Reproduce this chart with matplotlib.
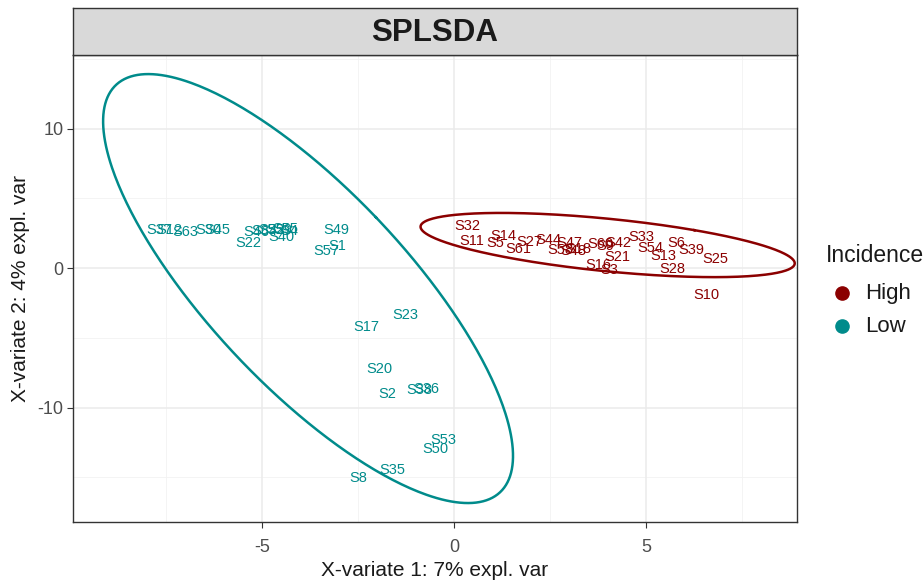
import numpy as np
import matplotlib
matplotlib.use("Agg")
import matplotlib.pyplot as plt
from matplotlib.lines import Line2D

plt.rcParams['font.family'] = ['Liberation Sans', 'DejaVu Sans']

# ---- data ----
low_names = ["S37", "S12", "S63", "S30", "S45", "S46", "S34", "S52", "S59", "S55", "S4",
             "S22", "S40", "S49", "S1", "S57", "S17", "S23", "S20", "S2", "S38", "S36",
             "S53", "S50", "S35", "S8"]
low_x = [-7.66, -7.40, -7.00, -6.40, -6.15, -5.15, -4.95, -4.75, -4.55, -4.40, -4.30,
         -5.36, -4.50, -3.07, -3.05, -3.33, -2.29, -1.28, -1.93, -1.74, -0.89, -0.72,
         -0.29, -0.49, -1.61, -2.50]
low_y = [2.72, 2.72, 2.60, 2.75, 2.70, 2.60, 2.65, 2.75, 2.70, 2.80, 2.65,
         1.80, 2.20, 2.72, 1.58, 1.22, -4.20, -3.37, -7.24, -9.03, -8.75, -8.70,
         -12.30, -13.00, -14.50, -15.05]

high_names = ["S32", "S11", "S14", "S5", "S61", "S27", "S44", "S47", "S58", "S48", "S18",
              "S60", "S9", "S42", "S21", "S33", "S54", "S6", "S39", "S13", "S25", "S28",
              "S16", "S3", "S10"]
high_x = [0.36, 0.47, 1.28, 1.07, 1.67, 1.95, 2.45, 3.00, 2.76, 3.10, 3.25,
          3.80, 3.95, 4.27, 4.25, 4.87, 5.10, 5.78, 6.17, 5.44, 6.80, 5.68,
          3.75, 4.04, 6.56]
high_y = [3.00, 1.94, 2.30, 1.80, 1.36, 1.86, 2.00, 1.80, 1.30, 1.20, 1.40,
          1.70, 1.60, 1.80, 0.80, 2.20, 1.43, 1.80, 1.30, 0.86, 0.65, -0.07,
          0.20, -0.14, -1.94]

# 95% confidence ellipses: centre x, centre y, sd x, sd y, correlation
ell_low = [-3.80, -1.47, 2.18, 6.28, -0.78]
ell_high = [4.00, 1.65, 1.99, 0.94, -0.57]

groups = ["High", "Low"]
colors = {"High": "#8B0000", "Low": "#008B8B"}

title = "SPLSDA"
legend_title = "Incidence"
xlabel = "X-variate 1: 7% expl. var"
ylabel = "X-variate 2: 4% expl. var"
xticks = [-5, 0, 5]
yticks = [-10, 0, 10]

# ---- figure ----
W, H = 924, 583
fig = plt.figure(figsize=(W / 100, H / 100), dpi=100)
L, R, B, T = 73/W, 797/W, 1 - 522/H, 1 - 55/H
ax = fig.add_axes([L, B, R - L, T - B])
ax.set_xlim(-9.92, 8.93)
ax.set_ylim(-18.2, 15.27)

# grid
for v in [-7.5, -2.5, 2.5, 7.5]:
    ax.axvline(v, color="#F2F2F2", lw=0.6, zorder=0)
for v in [-15, -5, 5, 15]:
    ax.axhline(v, color="#F2F2F2", lw=0.6, zorder=0)
for v in xticks:
    ax.axvline(v, color="#EBEBEB", lw=1.1, zorder=0)
for v in yticks:
    ax.axhline(v, color="#EBEBEB", lw=1.1, zorder=0)

t = np.sqrt(-2 * np.log(0.05))
ang = np.linspace(0, 2 * np.pi, 400)
for g, e in [("Low", ell_low), ("High", ell_high)]:
    cx, cy, sx, sy, r = e
    d = np.arccos(r)
    ex = cx + t * sx * np.cos(ang + d / 2)
    ey = cy + t * sy * np.cos(ang - d / 2)
    ax.plot(ex, ey, color=colors[g], lw=1.8, zorder=2)

for g, names, xs, ys in [("Low", low_names, low_x, low_y), ("High", high_names, high_x, high_y)]:
    for n, x, y in zip(names, xs, ys):
        ax.text(x, y, n, color=colors[g], fontsize=10.5, ha="center", va="center", zorder=3)

ax.set_xticks(xticks)
ax.set_yticks(yticks)
ax.set_xticklabels([str(v) for v in xticks])
ax.set_yticklabels([str(v) for v in yticks])
ax.tick_params(colors="#333333", labelcolor="#4D4D4D", labelsize=13, length=4, width=0.8, pad=3)
ax.tick_params(axis="x", pad=8)
for s in ax.spines.values():
    s.set_color("#333333")
    s.set_linewidth(1.0)
ax.set_xlabel(xlabel, fontsize=15, color="#1A1A1A", labelpad=4)
ax.set_ylabel(ylabel, fontsize=15, color="#1A1A1A", labelpad=5)

# strip
sax = fig.add_axes([L, T, R - L, 1 - 8/H - T])
sax.set_facecolor("#D9D9D9")
sax.set_xticks([]); sax.set_yticks([])
for s in sax.spines.values():
    s.set_color("#333333")
    s.set_linewidth(1.0)
sax.text(0.5, 0.47, title, fontsize=22.5, fontweight="bold", color="#1A1A1A",
         ha="center", va="center", transform=sax.transAxes)

# legend (manual, figure pixel coordinates)
fig.text(826/W, 1 - 255/H, legend_title, fontsize=16.5, color="#1A1A1A", ha="left", va="center")
for i, g in enumerate(groups):
    yy = 1 - (293 + 33 * i)/H
    fig.add_artist(Line2D([842/W], [yy], marker="o", color=colors[g], markersize=9.5,
                          linestyle="", transform=fig.transFigure))
    fig.text(865/W, yy, g, fontsize=16, color="#1A1A1A", ha="left", va="center")

fig.savefig("out.png", dpi=100)
